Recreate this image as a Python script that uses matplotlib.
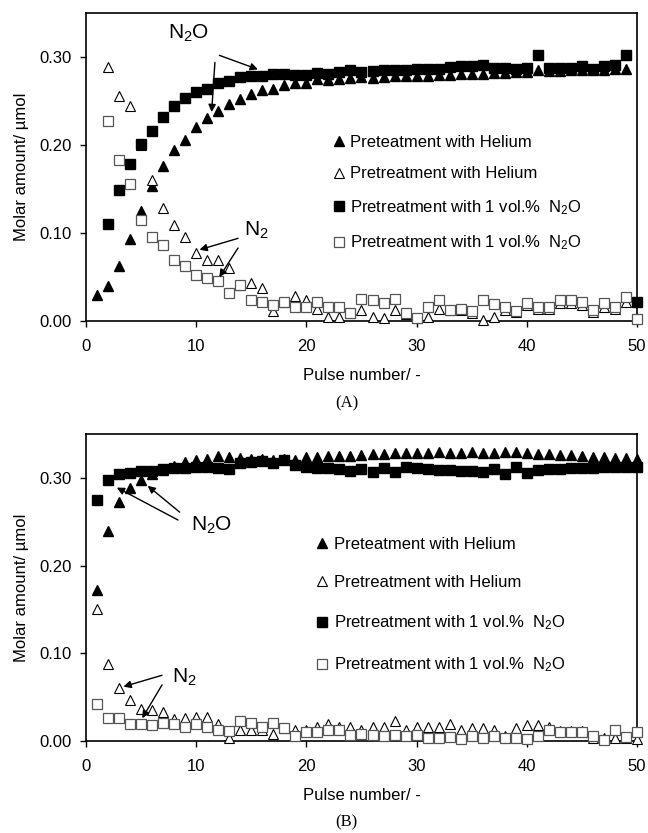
import matplotlib
matplotlib.use('Agg')
from matplotlib import pyplot as plt

plt.rcParams['font.family'] = ['Liberation Sans', 'DejaVu Sans']
plt.rcParams['mathtext.fontset'] = 'custom'
plt.rcParams['mathtext.rm'] = 'Liberation Sans'
plt.rcParams['mathtext.it'] = 'Liberation Sans'
plt.rcParams['mathtext.default'] = 'regular'

# ---- panel (A) ----
a_he_n2o_x = list(range(1, 50))
a_he_n2o = [0.030, 0.040, 0.063, 0.093, 0.125, 0.154, 0.176, 0.194, 0.206, 0.220,
            0.231, 0.239, 0.247, 0.252, 0.258, 0.263, 0.264, 0.268, 0.270, 0.270,
            0.275, 0.274, 0.275, 0.276, 0.277, 0.276, 0.277, 0.278, 0.278, 0.279,
            0.279, 0.280, 0.280, 0.281, 0.281, 0.281, 0.282, 0.282, 0.283, 0.283,
            0.285, 0.284, 0.284, 0.285, 0.285, 0.285, 0.285, 0.286, 0.286]
a_he_n2_x = list(range(2, 50))
a_he_n2 = [0.289, 0.256, 0.244, 0.200, 0.160, 0.128, 0.109, 0.096, 0.077,
           0.069, 0.069, 0.060, 0.041, 0.043, 0.037, 0.011, 0.022, 0.028, 0.024,
           0.014, 0.005, 0.005, 0.009, 0.013, 0.005, 0.003, 0.012, 0.008, 0.004,
           0.005, 0.014, 0.012, 0.012, 0.009, 0.001, 0.005, 0.013, 0.010, 0.018,
           0.014, 0.014, 0.020, 0.020, 0.018, 0.010, 0.016, 0.014, 0.022]
a_no_n2o_x = list(range(2, 51))
a_no_n2o = [0.110, 0.149, 0.179, 0.201, 0.216, 0.232, 0.244, 0.253, 0.260,
            0.264, 0.271, 0.273, 0.277, 0.278, 0.278, 0.281, 0.281, 0.280, 0.280,
            0.282, 0.281, 0.283, 0.285, 0.283, 0.284, 0.285, 0.285, 0.285, 0.286,
            0.286, 0.286, 0.289, 0.290, 0.290, 0.291, 0.288, 0.288, 0.287, 0.288,
            0.302, 0.288, 0.288, 0.288, 0.290, 0.287, 0.290, 0.291, 0.302, 0.022]
a_no_n2_x = list(range(2, 51))
a_no_n2 = [0.227, 0.183, 0.156, 0.115, 0.096, 0.086, 0.069, 0.062, 0.052,
           0.049, 0.045, 0.032, 0.041, 0.024, 0.022, 0.018, 0.022, 0.016, 0.016,
           0.022, 0.016, 0.016, 0.009, 0.025, 0.024, 0.020, 0.025, 0.009, 0.004,
           0.016, 0.024, 0.013, 0.014, 0.011, 0.024, 0.019, 0.016, 0.011, 0.021,
           0.016, 0.016, 0.024, 0.024, 0.022, 0.012, 0.020, 0.016, 0.027, 0.002]

# ---- panel (B) ----
b_x = list(range(1, 51))
b_he_n2o = [0.172, 0.240, 0.272, 0.288, 0.298, 0.305, 0.309, 0.314, 0.318, 0.320,
            0.322, 0.325, 0.324, 0.323, 0.322, 0.322, 0.320, 0.322, 0.321, 0.324,
            0.324, 0.325, 0.325, 0.325, 0.326, 0.327, 0.327, 0.328, 0.328, 0.328,
            0.328, 0.329, 0.328, 0.328, 0.329, 0.328, 0.328, 0.329, 0.329, 0.328,
            0.327, 0.327, 0.326, 0.326, 0.325, 0.324, 0.324, 0.323, 0.323, 0.322]
b_he_n2 = [0.150, 0.088, 0.060, 0.047, 0.037, 0.035, 0.033, 0.025, 0.026, 0.027,
           0.027, 0.019, 0.003, 0.013, 0.013, 0.013, 0.008, 0.015, 0.013, 0.013,
           0.016, 0.019, 0.016, 0.016, 0.013, 0.016, 0.016, 0.023, 0.013, 0.016,
           0.016, 0.016, 0.019, 0.013, 0.015, 0.015, 0.013, 0.006, 0.015, 0.018,
           0.018, 0.016, 0.012, 0.012, 0.011, 0.004, 0.003, 0.004, 0.004, 0.002]
b_no_n2o = [0.275, 0.298, 0.305, 0.306, 0.308, 0.308, 0.310, 0.311, 0.311, 0.313,
            0.312, 0.311, 0.310, 0.317, 0.318, 0.319, 0.317, 0.320, 0.315, 0.313,
            0.311, 0.311, 0.310, 0.308, 0.310, 0.307, 0.311, 0.307, 0.312, 0.311,
            0.310, 0.309, 0.309, 0.308, 0.308, 0.307, 0.310, 0.304, 0.312, 0.306,
            0.309, 0.310, 0.310, 0.311, 0.311, 0.311, 0.312, 0.312, 0.313, 0.312]
b_no_n2 = [0.042, 0.026, 0.026, 0.019, 0.019, 0.018, 0.021, 0.019, 0.016, 0.019,
           0.016, 0.013, 0.011, 0.023, 0.021, 0.016, 0.021, 0.015, 0.006, 0.010,
           0.010, 0.013, 0.013, 0.007, 0.008, 0.007, 0.006, 0.007, 0.006, 0.007,
           0.003, 0.003, 0.005, 0.002, 0.006, 0.003, 0.006, 0.003, 0.003, 0.002,
           0.006, 0.013, 0.010, 0.010, 0.010, 0.006, 0.001, 0.013, 0.005, 0.010]

labels = ['Preteatment with Helium',
          'Pretreatment with Helium',
          'Pretreatment with 1 vol.%  N$_2$O',
          'Pretreatment with 1 vol.%  N$_2$O']
y_ticks = [0.0, 0.1, 0.2, 0.3]
x_ticks = [0, 10, 20, 30, 40, 50]

styles = [dict(marker='^', color='black', mfc='black', mec='black', ms=7.5),
          dict(marker='^', color='black', mfc='white', mec='black', ms=7.5, mew=0.8),
          dict(marker='s', color='black', mfc='black', mec='black', ms=7),
          dict(marker='s', color='black', mfc='white', mec='#555555', ms=7, mew=0.9)]

fig = plt.figure(figsize=(6.48, 8.33), dpi=100)
ax1 = fig.add_axes([0.1327, 0.6146, 0.8503, 0.3697])
ax2 = fig.add_axes([0.1327, 0.1104, 0.8503, 0.3685])


def setup_axes(ax):
    ax.set_xlim(0, 50)
    ax.set_ylim(0, 0.35)
    ax.set_xticks(x_ticks)
    ax.set_yticks(y_ticks)
    ax.set_yticklabels(['%.2f' % v for v in y_ticks])
    ax.tick_params(direction='out', length=4, width=1, labelsize=12)
    ax.tick_params(axis='x', pad=9)
    ax.tick_params(axis='y', pad=6)
    for s in ax.spines.values():
        s.set_linewidth(1.2)
    ax.set_xlabel('Pulse number/ -', fontsize=12, labelpad=10)
    ax.set_ylabel('Molar amount/ µmol', fontsize=12, labelpad=8)


def plot_panel(ax, data, leg_anchor, spacing):
    handles = []
    for (x, y), st, lab in zip(data, styles, labels):
        h, = ax.plot(x, y, linestyle='none', label=lab, clip_on=False, zorder=3, **st)
        handles.append(h)
    ax.legend(handles=handles, loc='upper left', bbox_to_anchor=leg_anchor,
              frameon=False, fontsize=12, handlelength=0.7, handletextpad=0.35,
              labelspacing=spacing, borderpad=0, borderaxespad=0)


arrow = dict(arrowstyle='-|>', color='black', lw=1.0, mutation_scale=11, shrinkA=0, shrinkB=0)

setup_axes(ax1)
plot_panel(ax1, [(a_he_n2o_x, a_he_n2o), (a_he_n2_x, a_he_n2),
                 (a_no_n2o_x, a_no_n2o), (a_no_n2_x, a_no_n2)], (0.448, 0.605), 1.0)
ax1.text(9.3, 0.327, 'N$_2$O', fontsize=15, ha='center', va='center')
ax1.annotate('', xy=(15.6, 0.286), xytext=(12.1, 0.302), arrowprops=arrow)
ax1.annotate('', xy=(11.4, 0.2375), xytext=(11.7, 0.294), arrowprops=arrow)
ax1.text(15.5, 0.103, 'N$_2$', fontsize=15, ha='center', va='center')
ax1.annotate('', xy=(10.3, 0.081), xytext=(13.8, 0.094), arrowprops=arrow)
ax1.annotate('', xy=(12.1, 0.050), xytext=(13.8, 0.083), arrowprops=arrow)

setup_axes(ax2)
plot_panel(ax2, [(b_x, b_he_n2o), (b_x, b_he_n2),
                 (b_x, b_no_n2o), (b_x, b_no_n2)], (0.418, 0.665), 1.4)
ax2.text(11.4, 0.246, 'N$_2$O', fontsize=15, ha='center', va='center')
ax2.annotate('', xy=(2.8, 0.289), xytext=(8.35, 0.252), arrowprops=arrow)
ax2.annotate('', xy=(5.6, 0.291), xytext=(8.5, 0.261), arrowprops=arrow)
ax2.text(8.9, 0.073, 'N$_2$', fontsize=15, ha='center', va='center')
ax2.annotate('', xy=(3.4, 0.062), xytext=(6.9, 0.075), arrowprops=arrow)
ax2.annotate('', xy=(5.1, 0.026), xytext=(6.9, 0.064), arrowprops=arrow)

fig.text(0.535, 0.516, '(A)', fontsize=12, family='Liberation Serif', ha='center', va='center')
fig.text(0.535, 0.013, '(B)', fontsize=12, family='Liberation Serif', ha='center', va='center')

fig.savefig('out.png', dpi=100)
